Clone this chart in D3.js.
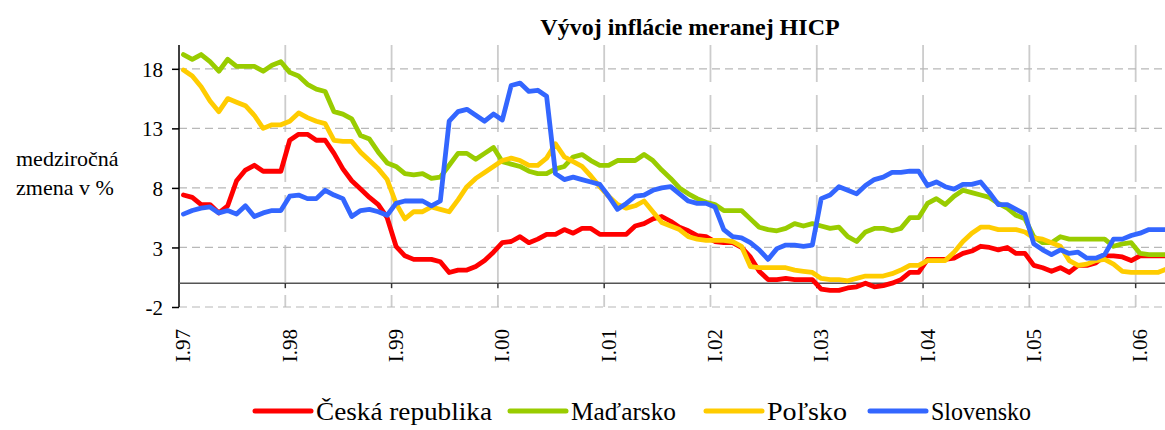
<!DOCTYPE html>
<html>
<head>
<meta charset="utf-8">
<script src="https://d3js.org/d3.v7.min.js"></script>
<style>
    body { margin: 0; background: #ffffff; }
    text { font-family: "Liberation Serif", "Times New Roman", serif; fill: #000000; }
    .title { font-size: 24px; font-weight: bold; }
    .tick-label { font-size: 21px; }
    .axis-label { font-size: 22px; }
    .legend-label { font-size: 25px; }
</style>
</head>
<body>
<script>

// Month labels on the category axis (one per January)
var yearLabels = ["I.97", "I.98", "I.99", "I.00", "I.01", "I.02", "I.03", "I.04", "I.05", "I.06"];
var yTicks = [-2, 3, 8, 13, 18];

// Year-on-year HICP inflation, monthly from I.97 to IV.06
var czech = [
    7.4, 7.2, 6.6, 6.6, 5.9, 6.5, 8.6, 9.5, 9.9, 9.4, 9.4, 9.4,
    12.0, 12.5, 12.5, 12.0, 12.0, 10.9, 9.6, 8.6, 7.9, 7.2, 6.6, 5.5,
    3.1, 2.3, 2.0, 2.0, 2.0, 1.8, 0.9, 1.1, 1.1, 1.4, 1.9, 2.6,
    3.4, 3.5, 3.9, 3.4, 3.7, 4.1, 4.1, 4.5, 4.2, 4.6, 4.6, 4.1,
    4.1, 4.1, 4.1, 4.8, 5.0, 5.4, 5.6, 5.2, 4.7, 4.4, 4.0, 3.9,
    3.5, 3.4, 3.4, 3.0, 2.2, 1.0, 0.3, 0.3, 0.4, 0.3, 0.3, 0.3,
    -0.5, -0.6, -0.6, -0.4, -0.3, 0.0, -0.3, -0.2, 0.0, 0.3, 0.9, 0.9,
    2.0, 2.0, 2.0, 2.1, 2.5, 2.7, 3.1, 3.0, 2.8, 3.0, 2.5, 2.5,
    1.5, 1.3, 1.0, 1.3, 0.9, 1.5, 1.5, 1.7, 2.3, 2.3, 2.2, 1.9,
    2.3, 2.3, 2.3, 2.3
];

var hungary = [
    19.2, 18.8, 19.2, 18.6, 17.8, 18.8, 18.2, 18.2, 18.2, 17.8, 18.3, 18.6,
    17.7, 17.4, 16.7, 16.3, 16.1, 14.4, 14.2, 13.8, 12.4, 12.1, 11.0, 10.1,
    9.8, 9.2, 9.1, 9.2, 8.8, 8.9, 9.9, 10.9, 10.9, 10.4, 10.9, 11.4,
    10.2, 10.0, 9.8, 9.4, 9.2, 9.2, 9.6, 9.8, 10.6, 10.8, 10.3, 9.9,
    9.9, 10.3, 10.3, 10.3, 10.8, 10.3, 9.5, 8.8, 8.0, 7.5, 7.1, 6.8,
    6.6, 6.1, 6.1, 6.1, 5.4, 4.7, 4.5, 4.4, 4.6, 5.0, 4.8, 5.0,
    4.8, 4.6, 4.7, 3.9, 3.5, 4.3, 4.6, 4.6, 4.4, 4.6, 5.5, 5.5,
    6.7, 7.1, 6.6, 7.3, 7.8, 7.6, 7.4, 7.2, 6.7, 6.3, 5.7, 5.4,
    3.9, 3.4, 3.4, 3.9, 3.7, 3.7, 3.7, 3.7, 3.7, 3.1, 3.3, 3.4,
    2.5, 2.4, 2.4, 2.4
];

var poland = [
    17.9, 17.4, 16.5, 15.3, 14.4, 15.5, 15.2, 14.9, 14.1, 13.0, 13.3, 13.3,
    13.6, 14.3, 13.9, 13.6, 13.4, 12.0, 11.9, 11.9, 11.0, 10.3, 9.6, 8.7,
    6.7, 5.4, 6.0, 6.0, 6.4, 6.2, 6.0, 7.0, 8.1, 8.8, 9.3, 9.8,
    10.3, 10.5, 10.3, 9.9, 9.9, 10.5, 11.7, 10.6, 10.2, 9.8, 9.0, 8.1,
    7.3, 6.6, 6.3, 6.5, 6.9, 6.0, 5.1, 4.8, 4.5, 3.9, 3.7, 3.6,
    3.6, 3.6, 3.5, 3.1, 1.4, 1.3, 1.3, 1.3, 1.3, 1.1, 1.0, 0.9,
    0.4, 0.3, 0.3, 0.2, 0.4, 0.6, 0.6, 0.6, 0.8, 1.1, 1.5, 1.5,
    1.9, 1.9, 1.9, 2.6, 3.5, 4.2, 4.7, 4.7, 4.5, 4.5, 4.5, 4.3,
    3.8, 3.7, 3.4, 3.1, 1.9, 1.5, 1.6, 1.9, 2.0, 1.6, 1.0, 0.9,
    0.9, 0.9, 0.9, 1.2
];

var slovakia = [
    5.8, 6.1, 6.3, 6.4, 5.9, 6.1, 5.8, 6.5, 5.6, 5.9, 6.1, 6.1,
    7.3, 7.4, 7.1, 7.1, 7.8, 7.4, 7.1, 5.6, 6.1, 6.2, 6.0, 5.7,
    6.7, 6.9, 6.9, 6.9, 6.5, 6.9, 13.6, 14.4, 14.6, 14.1, 13.6, 14.2,
    13.7, 16.6, 16.8, 16.1, 16.2, 15.7, 9.2, 8.7, 8.9, 8.7, 8.5, 8.3,
    7.3, 6.2, 6.7, 7.3, 7.4, 7.8, 8.0, 8.1, 7.5, 6.9, 6.7, 6.7,
    6.4, 4.5, 3.9, 3.8, 3.4, 2.8, 2.0, 2.9, 3.2, 3.2, 3.1, 3.2,
    7.1, 7.4, 8.1, 7.8, 7.5, 8.2, 8.7, 8.9, 9.3, 9.3, 9.4, 9.4,
    8.2, 8.5, 8.1, 7.9, 8.3, 8.3, 8.5, 7.6, 6.6, 6.6, 6.2, 5.8,
    3.3, 2.8, 2.4, 2.8, 2.5, 2.6, 2.1, 2.1, 2.4, 3.7, 3.7, 4.0,
    4.2, 4.5, 4.5, 4.5
];

var seriesNames = ["Česká republika", "Maďarsko", "Poľsko", "Slovensko"];
var seriesColors = ["#ff0000", "#99cc00", "#ffcc00", "#3366ff"];

window.onload = function() {
    /*
     * Main function
     */
    drawChart([czech, hungary, poland, slovakia]);
};

function drawChart(series) {
    /*
    Draws the HICP inflation line chart
    */

    var svgWidth = 1165;
    var svgHeight = 430;

    // Plot area (the right side runs a little past the picture)
    var plot = {
        left: 179,
        top: 45,
        bottom: 307,
        monthWidth: 8.858
    };

    var months = d3.range(czech.length);
    var plotRight = plot.left + months.length * plot.monthWidth;

    const svg = d3.select("body").append("svg")
        .attr("width", svgWidth)
        .attr("height", svgHeight);

    // Scaling function for x values, one band per month
    const xScale = d3.scaleBand()
        .domain(months)
        .range([plot.left, plotRight])
        .padding(0);

    var half = xScale.bandwidth() / 2;

    // Scaling function for y values
    const yScale = d3.scaleLinear()
        .domain([-2, 20])
        .range([plot.bottom, plot.top]);

    var januaries = months.filter(function(m) { return m % 12 === 0; });

    // Vertical gridlines at each January
    svg.append("g")
        .selectAll("line")
        .data(januaries.slice(1))
        .enter()
        .append("line")
        .attr("x1", function(m) { return xScale(m); })
        .attr("x2", function(m) { return xScale(m); })
        .attr("y1", plot.top)
        .attr("y2", plot.bottom)
        .attr("stroke", "#cccccc")
        .attr("stroke-width", 1.8)
        .attr("stroke-dasharray", "37,13");

    // Horizontal gridlines
    svg.append("g")
        .selectAll("line")
        .data(yTicks)
        .enter()
        .append("line")
        .attr("x1", plot.left)
        .attr("x2", plotRight)
        .attr("y1", function(d) { return yScale(d); })
        .attr("y2", function(d) { return yScale(d); })
        .attr("stroke", "#b8b8b8")
        .attr("stroke-width", 1.2)
        .attr("stroke-dasharray", "8,5");

    // Draw y-axis (plain hyphen for the negative tick, as in the original)
    const yAxis = svg.append("g")
        .attr("transform", `translate(${plot.left}, 0)`)
        .call(d3.axisLeft(yScale)
            .tickValues(yTicks)
            .tickFormat(function(d) { return String(d); })
            .tickSize(7)
            .tickSizeOuter(0)
            .tickPadding(9));

    yAxis.select(".domain")
        .attr("d", `M0,${plot.top}V${plot.bottom}`)
        .attr("stroke", "#000000")
        .attr("stroke-width", 1.5);
    yAxis.selectAll(".tick line").attr("stroke", "#000000").attr("stroke-width", 1.5);
    yAxis.selectAll(".tick text")
        .attr("class", "tick-label")
        .attr("font-family", null)
        .attr("font-size", null)
        .attr("dy", "0.36em");

    // Draw x-axis along the zero line
    var zeroY = yScale(0);
    svg.append("line")
        .attr("x1", plot.left)
        .attr("x2", plotRight)
        .attr("y1", zeroY)
        .attr("y2", zeroY)
        .attr("stroke", "#555555")
        .attr("stroke-width", 1.5);

    svg.append("g")
        .selectAll("line")
        .data(januaries.slice(1))
        .enter()
        .append("line")
        .attr("x1", function(m) { return xScale(m); })
        .attr("x2", function(m) { return xScale(m); })
        .attr("y1", zeroY)
        .attr("y2", zeroY + 5)
        .attr("stroke", "#333333")
        .attr("stroke-width", 1.5);

    // Rotated January labels below the plot
    svg.append("g")
        .selectAll("text")
        .data(januaries)
        .enter()
        .append("text")
        .attr("class", "tick-label")
        .attr("font-size", "22px")
        .attr("text-anchor", "end")
        .attr("transform", function(m) {
            return `translate(${xScale(m) + half + 7}, 329) rotate(-90)`;
        })
        .text(function(m, i) { return yearLabels[i]; });

    // Y label
    var yLabel = svg.append("text")
        .attr("class", "axis-label")
        .attr("x", 16)
        .attr("y", 166);
    yLabel.append("tspan").attr("x", 16).attr("y", 166).text("medziročná");
    yLabel.append("tspan").attr("x", 16).attr("y", 195).text("zmena v %");

    // Draw title
    svg.append("text")
        .attr("class", "title")
        .attr("x", 690)
        .attr("y", 35)
        .attr("text-anchor", "middle")
        .text("Vývoj inflácie meranej HICP");

    // Draw the lines
    var line = d3.line()
        .x(function(d, i) { return xScale(i) + half; })
        .y(function(d) { return yScale(d); });

    svg.append("g")
        .selectAll("path")
        .data(series)
        .enter()
        .append("path")
        .attr("d", line)
        .attr("fill", "none")
        .attr("stroke", function(d, i) { return seriesColors[i]; })
        .attr("stroke-width", 4.8)
        .attr("stroke-linejoin", "round")
        .attr("stroke-linecap", "round");

    // Legend
    var legendX = [255, 510, 706, 870];
    var legendWidth = [176, 105, 80, 100];
    var legend = svg.append("g")
        .selectAll("g")
        .data(seriesNames)
        .enter()
        .append("g")
        .attr("transform", function(d, i) { return `translate(${legendX[i]}, 411)`; });

    legend.append("line")
        .attr("x1", 0)
        .attr("x2", 56)
        .attr("stroke", function(d, i) { return seriesColors[i]; })
        .attr("stroke-width", 5)
        .attr("stroke-linecap", "round");

    legend.append("text")
        .attr("class", "legend-label")
        .attr("x", 61)
        .attr("y", 9)
        .attr("textLength", function(d, i) { return legendWidth[i]; })
        .attr("lengthAdjust", "spacingAndGlyphs")
        .text(function(d) { return d; });
};

</script>
</body>
</html>
